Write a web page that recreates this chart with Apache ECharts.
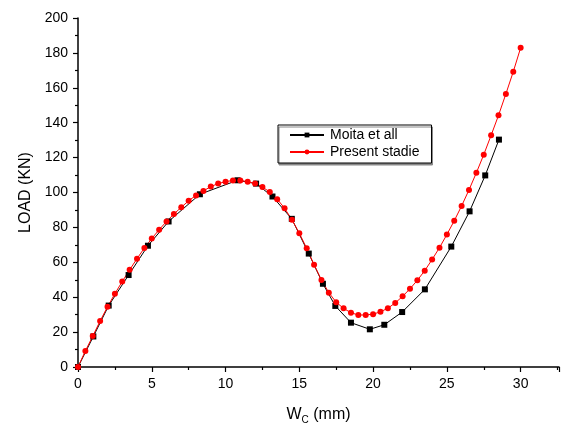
<!DOCTYPE html>
<html>
<head>
<meta charset="utf-8">
<script src="https://cdn.jsdelivr.net/npm/echarts@6/dist/echarts.min.js"></script>
<style>
html,body{margin:0;padding:0;background:#fff;}
#chart{width:562px;height:430px;}
</style>
</head>
<body>
<div id="chart"></div>
<script>
// Moita et all (reference data)
var moitaX = [0, 1.04, 2.08, 3.43, 4.74, 6.14, 8.26, 10.81, 12.07, 13.18, 14.49, 15.64, 16.6, 17.44, 18.5, 19.78, 20.76, 21.97, 23.51, 25.3, 26.54, 27.6, 28.53];
var moitaY = [0, 17.5, 35.2, 52.7, 69.5, 83.4, 99.0, 107.0, 105.1, 97.7, 84.9, 65.0, 47.7, 35.0, 25.4, 21.6, 24.2, 31.5, 44.5, 69.0, 89.2, 109.8, 130.3];

// Present stadie
var presentX = [0, 0.5, 1, 1.5, 2, 2.5, 3, 3.5, 4, 4.5, 5, 5.5, 6, 6.5, 7, 7.5, 8, 8.5, 9, 9.5,
  10, 10.5, 11, 11.5, 12, 12.5, 13, 13.5, 14, 14.5, 15, 15.5, 16, 16.5, 17, 17.5, 18, 18.5, 19, 19.5,
  20, 20.5, 21, 21.5, 22, 22.5, 23, 23.5, 24, 24.5, 25, 25.5, 26, 26.5, 27, 27.5, 28, 28.5, 29, 29.5, 30];
var presentY = [0, 9.2, 17.7, 26.4, 34.5, 42.0, 49.0, 55.7, 62.1, 68.2, 73.6, 78.7, 83.4, 87.7, 91.5, 95.3, 98.3, 100.9, 103.4, 105.1,
  106.2, 106.9, 106.9, 106.2, 105.1, 103.1, 100.3, 96.2, 91.0, 84.4, 76.7, 68.0, 58.6, 49.9, 42.6, 37.1, 33.6, 31.1, 29.8, 29.8,
  30.3, 31.6, 33.7, 36.7, 40.5, 44.8, 49.7, 55.2, 61.6, 68.4, 75.9, 83.8, 92.3, 101.5, 111.3, 121.7, 132.8, 144.2, 156.5, 169.2, 182.9];

var seriesNames = ['Moita et all', 'Present stadie'];
var xTitle = 'W';
var xSub = 'C';
var xUnit = ' (mm)';
var yTitle = 'LOAD (KN)';

function pairs(xs, ys) { return xs.map(function (x, i) { return [x, ys[i]]; }); }

var FONT = '"Liberation Sans", Arial, sans-serif';
var chart = echarts.init(document.getElementById('chart'), null, {renderer: 'canvas'});
chart.setOption({
  backgroundColor: '#fff',
  animation: false,
  textStyle: {fontFamily: FONT},
  grid: {left: 78, right: 3, top: 18, bottom: 58, containLabel: false},
  legend: {
    orient: 'vertical',
    left: 278, top: 125,
    data: seriesNames,
    padding: [3, 12, 4, 11],
    itemGap: 3,
    itemWidth: 34,
    itemHeight: 6,
    backgroundColor: '#fff',
    borderColor: '#000',
    borderWidth: 1,
    borderRadius: 0,
    shadowColor: '#888',
    shadowOffsetX: 1,
    shadowOffsetY: 2,
    shadowBlur: 0,
    textStyle: {fontSize: 14, color: '#000', fontFamily: FONT, padding: [0, 0, 0, 1]}
  },
  xAxis: {
    type: 'value', min: 0, max: 32.6, interval: 5,
    name: '{a|' + xTitle + '}{s|' + xSub + '}{a|' + xUnit + '}',
    nameLocation: 'middle', nameGap: 38,
    nameTextStyle: {
      rich: {
        a: {fontSize: 16, color: '#000', fontFamily: FONT},
        s: {fontSize: 10, color: '#000', fontFamily: FONT, verticalAlign: 'bottom', padding: [10, 0, 0, 0]}
      }
    },
    splitLine: {show: false},
    axisLine: {show: true, onZero: false, lineStyle: {color: '#000', width: 1.5}},
    axisTick: {show: true, inside: false, length: 5, lineStyle: {color: '#000', width: 1.2}},
    minorTick: {show: true, splitNumber: 2, length: 3, lineStyle: {color: '#000', width: 1.2}},
    axisLabel: {show: true, margin: 10, fontSize: 14, color: '#000', fontFamily: FONT, showMaxLabel: false}
  },
  yAxis: {
    type: 'value', min: 0, max: 200, interval: 20,
    name: yTitle,
    nameLocation: 'middle', nameGap: 40,
    nameTextStyle: {fontSize: 16, color: '#000', fontFamily: FONT},
    splitLine: {show: false},
    axisLine: {show: true, onZero: false, lineStyle: {color: '#000', width: 1.5}},
    axisTick: {show: true, inside: false, length: 5, lineStyle: {color: '#000', width: 1.2}},
    minorTick: {show: true, splitNumber: 2, length: 3, lineStyle: {color: '#000', width: 1.2}},
    axisLabel: {show: true, margin: 10, fontSize: 14, color: '#000', fontFamily: FONT}
  },
  series: [
    {
      name: seriesNames[0], type: 'line', data: pairs(moitaX, moitaY),
      symbol: 'rect', symbolSize: 6, showAllSymbol: true,
      lineStyle: {color: '#000', width: 1},
      itemStyle: {color: '#000'}
    },
    {
      name: seriesNames[1], type: 'line', data: pairs(presentX, presentY),
      symbol: 'circle', symbolSize: 6, showAllSymbol: true,
      lineStyle: {color: '#ff0000', width: 1},
      itemStyle: {color: '#ff0000'}
    }
  ]
});
</script>
</body>
</html>
